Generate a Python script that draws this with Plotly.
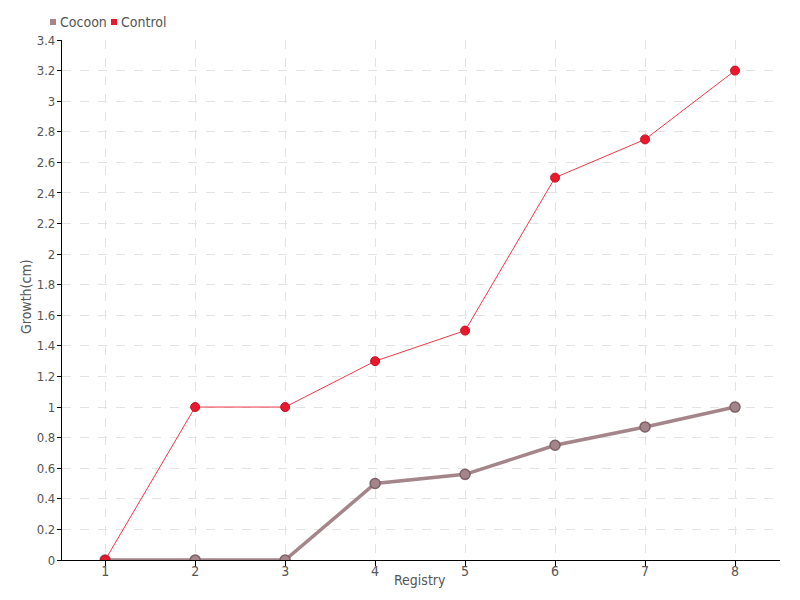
import plotly.graph_objects as go

registry = [1, 2, 3, 4, 5, 6, 7, 8]
cocoon = [0, 0, 0, 0.5, 0.56, 0.75, 0.87, 1.0]
control = [0, 1, 1, 1.3, 1.5, 2.5, 2.75, 3.2]
series_names = ["Cocoon", "Control"]
y_ticks = [0, 0.2, 0.4, 0.6, 0.8, 1, 1.2, 1.4, 1.6, 1.8, 2, 2.2, 2.4, 2.6, 2.8, 3, 3.2, 3.4]

FONT = "DejaVu Sans Condensed, sans-serif"
c_cocoon = "#a3858a"
c_cocoon_edge = "#7d6166"
c_control = "#e8192c"
TXT = "#555555"

L, R, T, B = 62, 20, 40, 40
PW, PH = 800 - L - R, 600 - T - B

fig = go.Figure()
fig.add_trace(go.Scatter(
    x=registry, y=cocoon, mode="lines+markers", name=series_names[0], showlegend=False,
    line=dict(color=c_cocoon, width=3.5),
    marker=dict(size=10, color=c_cocoon, line=dict(color=c_cocoon_edge, width=1.5)),
))
fig.add_trace(go.Scatter(
    x=registry, y=control, mode="lines+markers", name=series_names[1], showlegend=False,
    line=dict(color="#f03a48", width=1),
    marker=dict(size=9, color=c_control, line=dict(color="#c8101e", width=1)),
))

# compact legend drawn as shapes + annotations
legend_items = [(series_names[0], c_cocoon, 50), (series_names[1], c_control, 111)]
for name, col, px in legend_items:
    fig.add_shape(type="rect", xref="paper", yref="paper",
                  x0=(px - L) / PW, x1=(px - L + 6) / PW,
                  y0=(600 - B - 25) / PH, y1=(600 - B - 19) / PH,
                  fillcolor=col, line=dict(width=0))
    fig.add_annotation(text=name, xref="paper", yref="paper",
                       x=(px - L + 8) / PW, y=(600 - B - 22) / PH,
                       xanchor="left", yanchor="middle", showarrow=False,
                       font=dict(family=FONT, size=14, color=TXT))

# axis titles
fig.add_annotation(text="Registry", xref="paper", yref="paper",
                   x=(420 - L) / PW, y=(600 - B - 580) / PH,
                   xanchor="center", yanchor="middle", showarrow=False,
                   font=dict(family=FONT, size=14, color=TXT))
fig.add_annotation(text="Growth(cm)", xref="paper", yref="paper",
                   x=(26 - L) / PW, y=(600 - B - 297) / PH, textangle=-90,
                   xanchor="center", yanchor="middle", showarrow=False,
                   font=dict(family=FONT, size=14, color=TXT))

fig.update_layout(
    width=800, height=600,
    margin=dict(l=L, r=R, t=T, b=B, autoexpand=False),
    paper_bgcolor="white", plot_bgcolor="white",
    font=dict(family=FONT, size=14, color=TXT),
    showlegend=False,
    xaxis=dict(
        range=[0.52, 8.5], tickvals=registry, ticktext=[str(v) for v in registry],
        showline=True, linecolor="black", linewidth=1.2,
        ticks="outside", ticklen=5, tickcolor="black", ticklabelstandoff=-7,
        tickfont=dict(size=14, color=TXT),
        showgrid=True, gridcolor="#e3e3e3", griddash="dash", gridwidth=1,
        zeroline=False, automargin=False,
    ),
    yaxis=dict(
        range=[0, 3.4], tickvals=y_ticks, ticktext=[f"{v:g}" for v in y_ticks],
        showline=True, linecolor="black", linewidth=1.2,
        ticks="outside", ticklen=4, tickcolor="black", ticklabelstandoff=-1,
        tickfont=dict(size=13, color=TXT),
        showgrid=True, gridcolor="#e3e3e3", griddash="dash", gridwidth=1,
        zeroline=False, automargin=False,
    ),
)
fig.write_html("out.html", config={"displayModeBar": False},
               post_script="document.body.style.margin='0';")
